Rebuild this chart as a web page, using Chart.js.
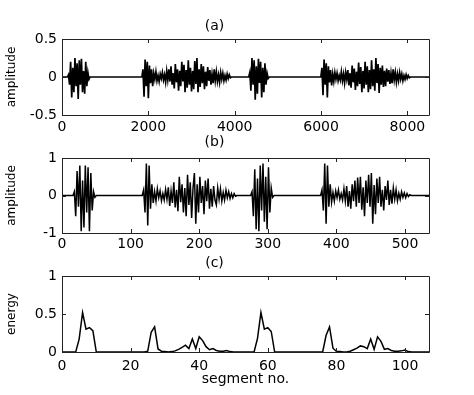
<!DOCTYPE html>
<html>
<head>
<meta charset="utf-8">
<script src="https://cdn.jsdelivr.net/npm/chart.js@4.4.1/dist/chart.umd.min.js"></script>
<style>
  html, body { margin: 0; padding: 0; background: #fff; }
  body { width: 474px; height: 395px; position: relative; overflow: hidden; }
  canvas { position: absolute; left: 0; }
</style>
</head>
<body>
<canvas id="chartA" width="474" height="140" style="top:0px"></canvas>
<canvas id="chartB" width="474" height="130" style="top:125px"></canvas>
<canvas id="chartC" width="474" height="150" style="top:245px"></canvas>
<script>
// (a) raw signal, 25-sample steps inside each burst
const aStep = 25;
const aStarts = [150, 1875, 4350, 6020];
const aBurst1 = [0.03, -0.1, 0.2, -0.27, 0.12, -0.2, 0.25, -0.12, 0.18, -0.29, 0.22, -0.1, 0.24, -0.2, 0.08, -0.22, 0.2, -0.12, 0.06, -0.03];
const aBurst2 = [0.1, -0.26, 0.23, -0.12, 0.2, -0.28,
  0.15, -0.08, 0.1, -0.12,
  0.05, -0.03, 0.07, -0.05, 0.02, -0.06, 0.04, -0.02, 0.06, -0.04, 0.03, -0.07, 0.08, -0.04,
  0.1, -0.06, 0.14, -0.1, 0.05, -0.15, 0.17, -0.07, 0.1, -0.18, 0.08, -0.12, 0.2, -0.06, 0.16, -0.2, 0.09, -0.14, 0.22, -0.1, 0.12, -0.19, 0.08, -0.16, 0.21, -0.09, 0.25, -0.2, 0.1, -0.13, 0.17, -0.08, 0.14, -0.16,
  0.07, -0.12, 0.13, -0.05, 0.09, -0.1, 0.04, -0.08, 0.1, -0.05, 0.07, -0.06, 0.03, -0.07, 0.06, -0.03, 0.05, -0.05, 0.02, -0.04, 0.04, -0.02, 0.03, -0.01];
const aBurst3 = [0.06, -0.18, 0.25, -0.1, 0.22, -0.3, 0.14, -0.22, 0.24, -0.08, 0.2, -0.27, 0.12, -0.2, 0.18, -0.1, 0.05, -0.02];
const aBurst4 = [0.12, -0.24, 0.23, -0.1, 0.18, -0.27,
  0.14, -0.07, 0.09, -0.11,
  0.04, -0.06, 0.06, -0.03, 0.05, -0.05, 0.02, -0.04, 0.07, -0.05, 0.04, -0.08, 0.06, -0.03,
  0.09, -0.11, 0.05, -0.14, 0.15, -0.07, 0.11, -0.17, 0.07, -0.12, 0.19, -0.09, 0.13, -0.2, 0.08, -0.15, 0.2, -0.1, 0.14, -0.2, 0.09, -0.16, 0.22, -0.12, 0.1, -0.18, 0.25, -0.08, 0.17, -0.21, 0.12, -0.1, 0.15, -0.13,
  0.08, -0.12, 0.11, -0.06, 0.09, -0.09, 0.05, -0.08, 0.1, -0.04, 0.06, -0.07, 0.04, -0.05, 0.06, -0.03, 0.04, -0.05, 0.02, -0.03, 0.03, -0.02, 0.02, -0.01];
const aXMax = 8500;
const aXTicks = [0, 2000, 4000, 6000, 8000];
const aYTicks = [-0.5, 0, 0.5];

// (b) downsampled, normalised
const bStep = 2;
const bStarts = [18, 119, 277, 379];
const bBurst1 = [0.1, -0.55, 0.65, -0.3, 0.8, -0.95, 0.4, -0.85, 0.8, -0.45, 0.75, -0.95, 0.6, -0.4, 0.1, -0.05];
const bBurst2 = [0.15, -0.45, 0.85, -0.8, 0.8, -0.35, 0.3,
  -0.2, 0.1, -0.15, 0.18, -0.06, 0.12, -0.14, 0.05, -0.12, 0.16,
  -0.1, 0.22, -0.28, 0.12, -0.2, 0.35, -0.32, 0.15, -0.42, 0.5, -0.18, 0.3, -0.45, 0.2, -0.55, 0.55, -0.25, 0.35, -0.6, 0.2, 0.6, -0.75, 0.3, -0.45, 0.5, -0.2, 0.25, -0.5, 0.4, -0.15, 0.45, -0.35, 0.18, -0.3, 0.25, -0.12,
  -0.25, 0.2, -0.1, 0.18, -0.15, 0.08, -0.12, 0.14, -0.06, 0.1, -0.08, 0.05, -0.06, 0.05, -0.02];
const bBurst3 = [0.1, -0.55, 0.7, -0.9, 0.45, -0.95, 0.8, -0.4, 0.85, -0.7, 0.5, -0.9, 0.75, -0.45, 0.2, -0.05];
const bBurst4 = [0.15, -0.4, 0.85, -0.75, 0.8, -0.3, 0.3,
  -0.18, 0.08, -0.15, 0.12, -0.06, 0.15, -0.1, 0.05, -0.12, 0.18,
  -0.15, 0.25, -0.3, 0.12, -0.35, 0.3, -0.15, 0.4, -0.3, 0.48, -0.2, 0.5, -0.38, 0.22, -0.55, 0.4, -0.2, 0.55, -0.3, 0.6, -0.75, 0.28, -0.5, 0.45, -0.2, 0.5, -0.3, 0.15, -0.4, 0.25, -0.12, 0.4, -0.25, 0.15,
  -0.22, 0.2, -0.1, 0.15, -0.14, 0.06, -0.1, 0.1, -0.05, 0.07, -0.06, 0.05, -0.03, 0.02];
const bXMax = 535;
const bXTicks = [0, 100, 200, 300, 400, 500];
const bYTicks = [-1, 0, 1];

// (c) energy per segment, segments 0..107
const cEnergy = [
  0, 0, 0, 0, 0, 0.17, 0.52, 0.30, 0.32, 0.28,
  0, 0, 0, 0, 0, 0, 0, 0, 0, 0,
  0, 0, 0, 0, 0, 0.01, 0.26, 0.33, 0.04, 0.01,
  0.005, 0, 0.005, 0.015, 0.035, 0.06, 0.09, 0.045, 0.17, 0.045,
  0.2, 0.15, 0.07, 0.03, 0.045, 0.02, 0.01, 0.01, 0.02, 0.005,
  0, 0, 0, 0, 0, 0, 0, 0.18, 0.52, 0.30,
  0.32, 0.27, 0, 0, 0, 0, 0, 0, 0, 0,
  0, 0, 0, 0, 0, 0, 0, 0.22, 0.33, 0.05,
  0.01, 0.005, 0, 0, 0.01, 0.03, 0.05, 0.08, 0.07, 0.045,
  0.17, 0.035, 0.2, 0.14, 0.035, 0.045, 0.02, 0.01, 0.01, 0.015,
  0.025, 0.005, 0, 0, 0, 0, 0, 0];
const cXMax = 107;
const cXTicks = [0, 20, 40, 60, 80, 100];
const cYTicks = [0, 0.5, 1];

Chart.defaults.font.family = "'DejaVu Sans', sans-serif";
Chart.defaults.color = '#000';
Chart.defaults.animation = false;

// zero line + bursts -> {x,y} points
function buildWave(starts, bursts, step, xMax) {
  const pts = [{ x: 0, y: 0 }];
  bursts.forEach((vals, i) => {
    const s = starts[i];
    pts.push({ x: s - step, y: 0 });
    vals.forEach((v, j) => pts.push({ x: s + j * step, y: v }));
    pts.push({ x: s + vals.length * step, y: 0 });
  });
  pts.push({ x: xMax, y: 0 });
  return pts;
}

// MATLAB style box with inward ticks on all four sides
const boxTicks = {
  id: 'boxTicks',
  afterDatasetsDraw(chart) {
    const { ctx, chartArea: a, scales: { x, y } } = chart;
    const len = 4;
    ctx.save();
    ctx.strokeStyle = '#222';
    ctx.lineWidth = 1;
    ctx.beginPath();
    ctx.rect(Math.round(a.left) + .5, Math.round(a.top) + .5,
             Math.round(a.right - a.left), Math.round(a.bottom - a.top));
    x.ticks.forEach(t => {
      const px = Math.round(x.getPixelForValue(t.value)) + .5;
      ctx.moveTo(px, a.bottom); ctx.lineTo(px, a.bottom - len);
      ctx.moveTo(px, a.top); ctx.lineTo(px, a.top + len);
    });
    y.ticks.forEach(t => {
      const py = Math.round(y.getPixelForValue(t.value)) + .5;
      ctx.moveTo(a.left, py); ctx.lineTo(a.left + len, py);
      ctx.moveTo(a.right, py); ctx.lineTo(a.right - len, py);
    });
    ctx.stroke();
    ctx.restore();
  }
};

function makePanel(id, cfg) {
  return new Chart(document.getElementById(id), {
    type: 'line',
    data: {
      datasets: [{
        data: cfg.data,
        borderColor: '#000',
        borderWidth: cfg.lineWidth,
        pointRadius: 0,
        tension: 0,
        fill: false,
      }]
    },
    options: {
      responsive: false,
      layout: { padding: { left: 0, right: 45, top: 0, bottom: 0 } },
      plugins: {
        legend: { display: false },
        tooltip: { enabled: false },
        title: {
          display: true,
          text: cfg.title,
          color: '#000',
          font: { size: 14, weight: 'normal' },
          padding: cfg.titlePad,
        }
      },
      scales: {
        x: {
          type: 'linear',
          min: 0,
          max: cfg.xMax,
          afterBuildTicks: s => { s.ticks = cfg.xTicks.map(v => ({ value: v })); },
          afterFit: s => { s.height = cfg.xHeight; },
          grid: { display: false, drawTicks: false },
          border: { display: false },
          ticks: { font: { size: 14 }, color: '#000', padding: cfg.xPad, maxRotation: 0, autoSkip: false, callback: v => String(v) },
          title: cfg.xTitle
            ? { display: true, text: cfg.xTitle, color: '#000', font: { size: 14 }, padding: { top: 0, bottom: 7 } }
            : { display: false },
        },
        y: {
          type: 'linear',
          min: cfg.yTicks[0],
          max: cfg.yTicks[cfg.yTicks.length - 1],
          afterBuildTicks: s => { s.ticks = cfg.yTicks.map(v => ({ value: v })); },
          afterFit: s => { s.width = 62; },
          grid: { display: false, drawTicks: false },
          border: { display: false },
          ticks: { font: { size: 14 }, color: '#000', padding: 5, callback: v => String(v) },
          title: { display: true, text: cfg.yTitle, color: '#000', font: { size: 12 }, padding: { top: 5, bottom: 0 } },
        }
      }
    },
    plugins: [boxTicks]
  });
}

makePanel('chartA', {
  title: '(a)', titlePad: { top: 18.4, bottom: 3.8 },
  data: buildWave(aStarts, [aBurst1, aBurst2, aBurst3, aBurst4], aStep, aXMax),
  lineWidth: 1.7, xMax: aXMax, xTicks: aXTicks, yTicks: aYTicks,
  xHeight: 25, xPad: 4, yTitle: 'amplitude'
});

makePanel('chartB', {
  title: '(b)', titlePad: { top: 9.4, bottom: 6.8 },
  data: buildWave(bStarts, [bBurst1, bBurst2, bBurst3, bBurst4], bStep, bXMax),
  lineWidth: 1.5, xMax: bXMax, xTicks: bXTicks, yTicks: bYTicks,
  xHeight: 22, xPad: 3, yTitle: 'amplitude'
});

makePanel('chartC', {
  title: '(c)', titlePad: { top: 10, bottom: 4.2 },
  data: cEnergy.map((v, i) => ({ x: i, y: v })),
  lineWidth: 1.5, xMax: cXMax, xTicks: cXTicks, yTicks: cYTicks,
  xHeight: 43, xPad: 6, yTitle: 'energy', xTitle: 'segment no.'
});
</script>
</body>
</html>
